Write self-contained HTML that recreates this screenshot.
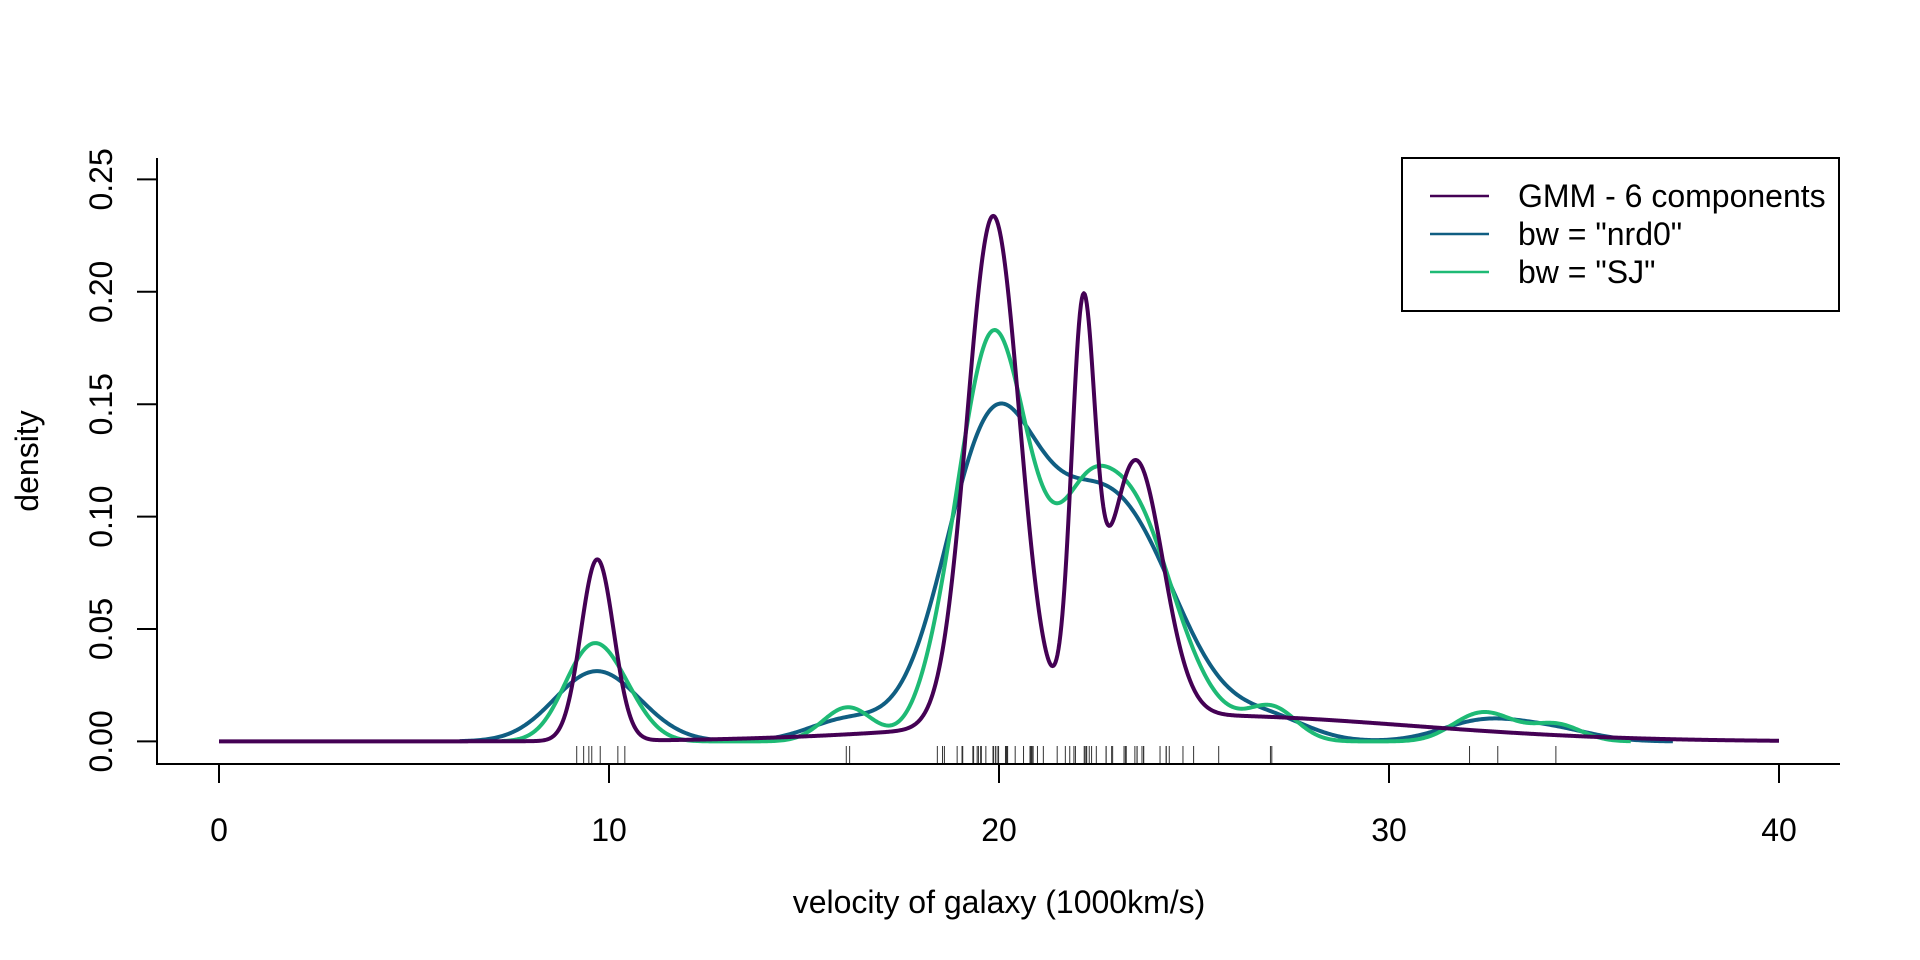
<!DOCTYPE html>
<html><head><meta charset="utf-8"><style>
html,body{margin:0;padding:0;background:#fff;}
svg{display:block;font-family:"Liberation Sans",Arial,sans-serif;}
</style></head><body>
<svg id="s" width="1920" height="960" xmlns="http://www.w3.org/2000/svg">
<rect width="1920" height="960" fill="#fff"/>
<g stroke="#000" stroke-width="2" fill="none">
<line x1="157" y1="158" x2="157" y2="764"/>
<line x1="156" y1="764" x2="1840" y2="764"/>
<line x1="137" y1="741.4" x2="157" y2="741.4"/>
<line x1="137" y1="629" x2="157" y2="629"/>
<line x1="137" y1="516.6" x2="157" y2="516.6"/>
<line x1="137" y1="404.2" x2="157" y2="404.2"/>
<line x1="137" y1="291.8" x2="157" y2="291.8"/>
<line x1="137" y1="179.4" x2="157" y2="179.4"/>
<line x1="219" y1="764" x2="219" y2="783"/>
<line x1="609" y1="764" x2="609" y2="783"/>
<line x1="999" y1="764" x2="999" y2="783"/>
<line x1="1389" y1="764" x2="1389" y2="783"/>
<line x1="1779" y1="764" x2="1779" y2="783"/>
</g>
<g font-size="32" fill="#000" text-anchor="middle">
<text x="219" y="841">0</text>
<text x="609" y="841">10</text>
<text x="999" y="841">20</text>
<text x="1389" y="841">30</text>
<text x="1779" y="841">40</text>
<text transform="translate(112,741.4) rotate(-90)">0.00</text>
<text transform="translate(112,629) rotate(-90)">0.05</text>
<text transform="translate(112,516.6) rotate(-90)">0.10</text>
<text transform="translate(112,404.2) rotate(-90)">0.15</text>
<text transform="translate(112,291.8) rotate(-90)">0.20</text>
<text transform="translate(112,179.4) rotate(-90)">0.25</text>
<text x="999" y="913">velocity of galaxy (1000km/s)</text>
<text transform="translate(38,461) rotate(-90)">density</text>
</g>
<g id="rug" stroke="#000" stroke-width="1" opacity="0.8"></g>
<g id="curves" fill="none" stroke-width="4" stroke-linejoin="round"></g>
<rect x="1402" y="158" width="437" height="153" fill="#fff" stroke="#000" stroke-width="2"/>
<g stroke-width="2.5">
<line x1="1430" y1="196" x2="1489" y2="196" stroke="#440154"/>
<line x1="1430" y1="234" x2="1489" y2="234" stroke="#105E82"/>
<line x1="1430" y1="272" x2="1489" y2="272" stroke="#1EBA75"/>
</g>
<g font-size="32" fill="#000">
<text x="1518" y="207">GMM - 6 components</text>
<text x="1518" y="245">bw = "nrd0"</text>
<text x="1518" y="283">bw = "SJ"</text>
</g>
</svg>
<script>
var d=[9172,9350,9483,9558,9775,10227,10406,16084,16170,18419,18552,18600,18927,19052,19070,19330,19343,19349,19440,19473,19529,19541,19547,19663,19846,19856,19863,19914,19918,19973,19989,20166,20175,20179,20196,20215,20221,20415,20629,20795,20821,20846,20875,20986,21137,21492,21701,21814,21921,21960,22185,22209,22242,22249,22314,22374,22495,22746,22747,22888,22914,23206,23241,23263,23484,23538,23542,23666,23706,23711,24129,24285,24289,24366,24717,24990,25633,26960,26995,32065,32789,34279].map(function(v){return v/1000;});
function X(v){return 219+39*v;}
function Y(p){return 741.4-p*2248;}
var ns="http://www.w3.org/2000/svg";
var rug=document.getElementById('rug');
d.forEach(function(v){var l=document.createElementNS(ns,'line');l.setAttribute('x1',X(v));l.setAttribute('x2',X(v));l.setAttribute('y1',746);l.setAttribute('y2',763);rug.appendChild(l);});
function nrm(x,m,s){return Math.exp(-(x-m)*(x-m)/(2*s*s))/(s*Math.sqrt(2*Math.PI));}
function kde(bw){var a=d[0]-3*bw,b=d[d.length-1]+3*bw,pts=[];for(var i=0;i<=800;i++){var x=a+(b-a)*i/800,s=0;for(var j=0;j<d.length;j++)s+=nrm(x,d[j],bw);pts.push([x,s/d.length]);}return pts;}
var comps=[[0.085,9.7,0.42],[0.38,19.85,0.67],[0.128,22.15,0.3],[0.2,23.5,0.7],[0.16,25,5.5]];
function gmm(){var pts=[];for(var i=0;i<=1600;i++){var x=40*i/1600,s=0;comps.forEach(function(c){s+=c[0]*nrm(x,c[1],c[2]);});pts.push([x,s]);}return pts;}
function path(pts,col){var p=document.createElementNS(ns,'path');p.setAttribute('d','M'+pts.map(function(q){return X(q[0]).toFixed(2)+','+Y(q[1]).toFixed(2);}).join('L'));p.setAttribute('stroke',col);document.getElementById('curves').appendChild(p);}
path(kde(1.0),'#105E82');
path(kde(0.64),'#1EBA75');
path(gmm(),'#440154');
</script>
</body></html>
